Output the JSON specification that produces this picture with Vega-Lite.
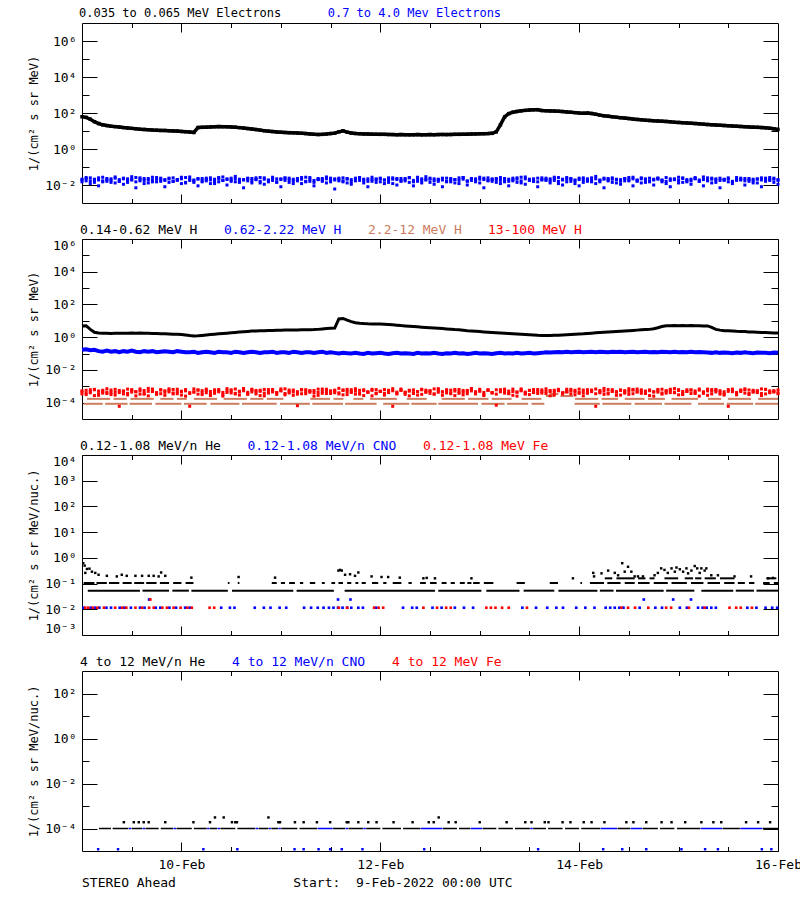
{
"$schema":"https://vega.github.io/schema/vega-lite/v6.json",
"autosize":{"type":"pad"},
"padding":{"left":27,"top":6,"right":0,"bottom":10},
"background":"white",
"config":{"font":"DejaVu Sans Mono","view":{"stroke":"black","strokeWidth":1},
"axis":{"grid":false,"domain":false,"tickColor":"black","tickWidth":1,"labelColor":"black","titleColor":"black","labelFont":"DejaVu Sans Mono","titleFont":"DejaVu Sans Mono","titleFontWeight":"normal"},
"legend":{"labelColor":"black"}},
"title":{"text":"STEREO Ahead\u00a0\u00a0\u00a0\u00a0\u00a0\u00a0\u00a0\u00a0\u00a0\u00a0\u00a0\u00a0\u00a0\u00a0\u00a0Start:\u00a0\u00a09-Feb-2022 00:00 UTC","orient":"bottom","anchor":"start","frame":"group","offset":5,"fontSize":13,"fontWeight":"normal","font":"DejaVu Sans Mono","color":"black"},
"datasets":{
"d":[
{"h":0,"ea":62,"eb":0.021,"ec":0.015,"ed":0.019,"pa":4.8,"pb":0.17,"pr":4.6e-4,"ps":3.4e-4,"pt":5.3e-4},
{"h":1,"ea":57,"eb":0.017,"ec":0.026,"ed":0.023,"pa":5.0,"pb":0.18,"pr":3.1e-4,"ps":5.7e-4,"pt":3.9e-4},
{"h":2,"ea":45,"eb":0.025,"ec":0.012,"ed":0.017,"pa":3.0,"pb":0.16,"pr":6.2e-4,"ps":4e-4,"pt":4.8e-4},
{"h":3,"ea":33,"eb":0.014,"ec":0.02,"ed":0.021,"pa":2.0,"pb":0.17,"pr":2.7e-4,"ps":6.5e-4,"pt":6.1e-4},
{"h":4,"ea":26,"eb":0.019,"ec":0.009,"ed":0.025,"pa":1.8,"pb":0.14,"pr":5.1e-4,"ps":2.8e-4,"pt":3.5e-4},
{"h":5,"ea":22,"eb":0.027,"ec":0.017,"ed":0.015,"pa":1.75,"pb":0.13,"pr":3.8e-4,"ps":4.9e-4,"pt":5.7e-4},
{"h":6,"ea":20,"eb":0.016,"ec":0.023,"ed":0.02,"pa":1.72,"pb":0.15,"pr":7.1e-4,"ps":3.6e-4,"pt":4.4e-4},
{"h":7,"ea":18.5,"eb":0.022,"ec":0.014,"ed":0.018,"pa":1.7,"pb":0.13,"pr":4.2e-4,"ps":5.9e-4,"pt":3.1e-4},
{"h":8,"ea":17.5,"eb":0.013,"ec":0.028,"ed":0.024,"pa":1.75,"pb":0.14,"pr":2.9e-4,"ps":4.3e-4,"pt":6.5e-4},
{"h":9,"ea":16.5,"eb":0.02,"ec":0.016,"ed":0.016,"pa":1.72,"pb":0.12,"pr":5.6e-4,"ps":6e-5,"pt":4.1e-4},
{"h":10,"ea":15.5,"eb":0.024,"ec":0.011,"ed":0.022,"pa":1.74,"pb":0.14,"pr":3.4e-4,"ps":5.1e-4,"pt":5e-4},
{"h":11,"ea":14.8,"eb":0.018,"ec":0.022,"ed":0.014,"pa":1.76,"pb":0.13,"pr":6.7e-4,"ps":3e-4,"pt":3.7e-4},
{"h":12,"ea":14,"eb":0.029,"ec":0.019,"ed":0.02,"pa":1.8,"pb":0.15,"pr":4.4e-4,"ps":6.2e-4,"pt":5.8e-4},
{"h":13,"ea":13.3,"eb":0.015,"ec":0.007,"ed":0.026,"pa":1.76,"pb":0.13,"pr":2.6e-4,"ps":4.7e-4,"pt":4.6e-4},
{"h":14,"ea":12.6,"eb":0.021,"ec":0.025,"ed":0.017,"pa":1.8,"pb":0.12,"pr":5.3e-4,"ps":3.3e-4,"pt":6.9e-4},
{"h":15,"ea":12.2,"eb":0.012,"ec":0.018,"ed":0.023,"pa":1.75,"pb":0.14,"pr":3.6e-4,"ps":5.5e-4,"pt":3.3e-4},
{"h":16,"ea":11.8,"eb":0.023,"ec":0.013,"ed":0.019,"pa":1.72,"pb":0.13,"pr":7.4e-4,"ps":2.6e-4,"pt":4.9e-4},
{"h":17,"ea":11.3,"eb":0.019,"ec":0.027,"ed":0.015,"pa":1.7,"pb":0.14,"pr":4.8e-4,"ps":6.8e-4,"pt":5.4e-4},
{"h":18,"ea":11.1,"eb":0.026,"ec":0.015,"ed":0.021,"pa":1.66,"pb":0.12,"pr":3.2e-4,"ps":4.1e-4,"pt":3.8e-4},
{"h":19,"ea":10.8,"eb":0.016,"ec":0.021,"ed":0.024,"pa":1.62,"pb":0.13,"pr":5.9e-4,"ps":3.5e-4,"pt":6.2e-4},
{"h":20,"ea":10.7,"eb":0.02,"ec":0.008,"ed":0.018,"pa":1.6,"pb":0.14,"pr":2.8e-4,"ps":5.3e-4,"pt":4.3e-4},
{"h":21,"ea":10.4,"eb":0.014,"ec":0.024,"ed":0.022,"pa":1.56,"pb":0.13,"pr":4.5e-4,"ps":7e-4,"pt":5.6e-4},
{"h":22,"ea":10.1,"eb":0.025,"ec":0.016,"ed":0.016,"pa":1.52,"pb":0.12,"pr":6.4e-4,"ps":3.9e-4,"pt":3.4e-4},
{"h":23,"ea":9.9,"eb":0.018,"ec":0.02,"ed":0.02,"pa":1.5,"pb":0.14,"pr":3.5e-4,"ps":4.6e-4,"pt":6.6e-4},
{"h":24,"ea":9.5,"eb":0.022,"ec":0.012,"ed":0.027,"pa":1.45,"pb":0.13,"pr":5e-4,"ps":2.9e-4,"pt":4.7e-4},
{"h":25,"ea":9.2,"eb":0.013,"ec":0.026,"ed":0.014,"pa":1.35,"pb":0.12,"pr":2.5e-4,"ps":6.3e-4,"pt":5.2e-4},
{"h":26,"ea":8.8,"eb":0.028,"ec":0.018,"ed":0.021,"pa":1.26,"pb":0.12,"pr":4.1e-4,"ps":6e-5,"pt":3.6e-4},
{"h":27,"ea":8.3,"eb":0.017,"ec":0.014,"ed":0.019,"pa":1.2,"pb":0.13,"pr":6.9e-4,"ps":4.4e-4,"pt":4.5e-4},
{"h":28,"ea":15.5,"eb":0.021,"ec":0.009,"ed":0.023,"pa":1.22,"pb":0.11,"pr":3.3e-4,"ps":5.8e-4,"pt":6e-4},
{"h":29,"ea":16,"eb":0.015,"ec":0.023,"ed":0.017,"pa":1.28,"pb":0.12,"pr":5.4e-4,"ps":3.1e-4,"pt":4e-4},
{"h":30,"ea":16.4,"eb":0.024,"ec":0.017,"ed":0.02,"pa":1.36,"pb":0.13,"pr":4e-4,"ps":6.7e-4,"pt":5.5e-4},
{"h":31,"ea":16.9,"eb":0.019,"ec":0.012,"ed":0.025,"pa":1.45,"pb":0.12,"pr":2.7e-4,"ps":4.8e-4,"pt":3.2e-4},
{"h":32,"ea":17.3,"eb":0.012,"ec":0.021,"ed":0.016,"pa":1.52,"pb":0.11,"pr":6.1e-4,"ps":3.7e-4,"pt":4.9e-4},
{"h":33,"ea":17.6,"eb":0.026,"ec":0.015,"ed":0.022,"pa":1.6,"pb":0.13,"pr":4.6e-4,"ps":5.4e-4,"pt":6.3e-4},
{"h":34,"ea":17.4,"eb":0.018,"ec":0.028,"ed":0.018,"pa":1.68,"pb":0.12,"pr":3.1e-4,"ps":2.5e-4,"pt":4.2e-4},
{"h":35,"ea":17.2,"eb":0.022,"ec":0.01,"ed":0.02,"pa":1.76,"pb":0.12,"pr":7.2e-4,"ps":4.2e-4,"pt":5.1e-4},
{"h":36,"ea":16.8,"eb":0.016,"ec":0.019,"ed":0.024,"pa":1.85,"pb":0.11,"pr":5.2e-4,"ps":6.1e-4,"pt":3.9e-4},
{"h":37,"ea":16.3,"eb":0.03,"ec":0.022,"ed":0.015,"pa":1.95,"pb":0.13,"pr":3.7e-4,"ps":3.4e-4,"pt":6.8e-4},
{"h":38,"ea":15.4,"eb":0.014,"ec":0.016,"ed":0.021,"pa":2.05,"pb":0.12,"pr":2.9e-4,"ps":5e-4,"pt":4.6e-4},
{"h":39,"ea":14.5,"eb":0.02,"ec":0.007,"ed":0.019,"pa":2.15,"pb":0.11,"pr":5.8e-4,"ps":7.3e-4,"pt":5.3e-4},
{"h":40,"ea":13.6,"eb":0.023,"ec":0.024,"ed":0.017,"pa":2.25,"pb":0.12,"pr":4.3e-4,"ps":3.2e-4,"pt":3.5e-4},
{"h":41,"ea":12.8,"eb":0.017,"ec":0.013,"ed":0.023,"pa":2.35,"pb":0.13,"pr":6.6e-4,"ps":4.5e-4,"pt":6e-4},
{"h":42,"ea":12,"eb":0.025,"ec":0.02,"ed":0.02,"pa":2.4,"pb":0.12,"pr":3.4e-4,"ps":5.6e-4,"pt":4.4e-4},
{"h":43,"ea":11.2,"eb":0.013,"ec":0.026,"ed":0.016,"pa":2.45,"pb":0.11,"pr":4.9e-4,"ps":2.7e-4,"pt":5.7e-4},
{"h":44,"ea":10.4,"eb":0.021,"ec":0.011,"ed":0.025,"pa":2.5,"pb":0.12,"pr":2.6e-4,"ps":6.4e-4,"pt":3.8e-4},
{"h":45,"ea":9.8,"eb":0.019,"ec":0.015,"ed":0.018,"pa":2.55,"pb":0.12,"pr":6.3e-4,"ps":3.8e-4,"pt":4.8e-4},
{"h":46,"ea":9.3,"eb":0.027,"ec":0.018,"ed":0.022,"pa":2.6,"pb":0.13,"pr":4.5e-4,"ps":5.2e-4,"pt":6.4e-4},
{"h":47,"ea":8.9,"eb":0.015,"ec":0.022,"ed":0.014,"pa":2.62,"pb":0.11,"pr":3.2e-4,"ps":4.1e-4,"pt":4.1e-4},
{"h":48,"ea":8.6,"eb":0.022,"ec":0.008,"ed":0.02,"pa":2.65,"pb":0.12,"pr":5.5e-4,"ps":6.9e-4,"pt":5.2e-4},
{"h":49,"ea":8.3,"eb":0.018,"ec":0.025,"ed":0.024,"pa":2.7,"pb":0.12,"pr":7e-4,"ps":3e-4,"pt":3.6e-4},
{"h":50,"ea":8.1,"eb":0.024,"ec":0.014,"ed":0.019,"pa":2.72,"pb":0.11,"pr":3.9e-4,"ps":4.7e-4,"pt":5.9e-4},
{"h":51,"ea":7.9,"eb":0.012,"ec":0.021,"ed":0.017,"pa":2.75,"pb":0.13,"pr":2.8e-4,"ps":5.9e-4,"pt":4.5e-4},
{"h":52,"ea":7.7,"eb":0.02,"ec":0.017,"ed":0.023,"pa":2.78,"pb":0.12,"pr":4.7e-4,"ps":6.5e-5,"pt":3.3e-4},
{"h":53,"ea":7.5,"eb":0.026,"ec":0.012,"ed":0.021,"pa":2.8,"pb":0.11,"pr":6e-4,"ps":3.5e-4,"pt":6.2e-4},
{"h":54,"ea":7.2,"eb":0.016,"ec":0.027,"ed":0.015,"pa":2.82,"pb":0.12,"pr":3.5e-4,"ps":6.2e-4,"pt":4.7e-4},
{"h":55,"ea":6.9,"eb":0.021,"ec":0.016,"ed":0.026,"pa":2.85,"pb":0.12,"pr":5.1e-4,"ps":4.3e-4,"pt":5.4e-4},
{"h":56,"ea":6.6,"eb":0.014,"ec":0.009,"ed":0.018,"pa":2.9,"pb":0.11,"pr":2.5e-4,"ps":5.5e-4,"pt":4e-4},
{"h":57,"ea":6.4,"eb":0.023,"ec":0.02,"ed":0.02,"pa":3.0,"pb":0.12,"pr":4.2e-4,"ps":2.8e-4,"pt":6.7e-4},
{"h":58,"ea":6.5,"eb":0.019,"ec":0.023,"ed":0.016,"pa":3.2,"pb":0.13,"pr":6.8e-4,"ps":4.9e-4,"pt":3.7e-4},
{"h":59,"ea":6.8,"eb":0.028,"ec":0.013,"ed":0.022,"pa":3.4,"pb":0.11,"pr":3.6e-4,"ps":6.6e-4,"pt":5e-4},
{"h":60,"ea":7.2,"eb":0.015,"ec":0.018,"ed":0.024,"pa":3.5,"pb":0.12,"pr":5.3e-4,"ps":3.6e-4,"pt":4.3e-4},
{"h":61,"ea":7.6,"eb":0.022,"ec":0.006,"ed":0.019,"pa":3.6,"pb":0.11,"pr":4e-4,"ps":5.1e-4,"pt":5.8e-4},
{"h":62,"ea":9,"eb":0.017,"ec":0.024,"ed":0.021,"pa":13,"pb":0.1,"pr":7.5e-4,"ps":4e-4,"pt":3.4e-4},
{"h":63,"ea":10.2,"eb":0.025,"ec":0.015,"ed":0.017,"pa":14,"pb":0.11,"pr":3e-4,"ps":6e-4,"pt":5.5e-4},
{"h":64,"ea":8.6,"eb":0.013,"ec":0.021,"ed":0.023,"pa":11,"pb":0.105,"pr":4.8e-4,"ps":3.1e-4,"pt":6.5e-4},
{"h":65,"ea":7.7,"eb":0.02,"ec":0.011,"ed":0.015,"pa":9,"pb":0.1,"pr":6.2e-4,"ps":4.6e-4,"pt":4.2e-4},
{"h":66,"ea":7.3,"eb":0.024,"ec":0.017,"ed":0.02,"pa":7.6,"pb":0.11,"pr":3.3e-4,"ps":7.1e-4,"pt":5.1e-4},
{"h":67,"ea":7.1,"eb":0.018,"ec":0.026,"ed":0.025,"pa":7.1,"pb":0.1,"pr":5.7e-4,"ps":3.3e-4,"pt":3.9e-4},
{"h":68,"ea":6.9,"eb":0.021,"ec":0.013,"ed":0.018,"pa":6.8,"pb":0.095,"pr":2.7e-4,"ps":5.4e-4,"pt":6.1e-4},
{"h":69,"ea":6.8,"eb":0.016,"ec":0.008,"ed":0.022,"pa":6.6,"pb":0.11,"pr":4.4e-4,"ps":4.2e-4,"pt":4.6e-4},
{"h":70,"ea":6.7,"eb":0.027,"ec":0.02,"ed":0.016,"pa":6.5,"pb":0.1,"pr":6.5e-4,"ps":2.6e-4,"pt":5.6e-4},
{"h":71,"ea":6.6,"eb":0.014,"ec":0.022,"ed":0.02,"pa":6.4,"pb":0.105,"pr":3.8e-4,"ps":6.3e-4,"pt":3.5e-4},
{"h":72,"ea":6.5,"eb":0.022,"ec":0.015,"ed":0.024,"pa":6.3,"pb":0.11,"pr":5e-4,"ps":4.8e-4,"pt":4.9e-4},
{"h":73,"ea":6.5,"eb":0.019,"ec":0.012,"ed":0.019,"pa":6.1,"pb":0.1,"pr":2.9e-4,"ps":3.7e-4,"pt":6.3e-4},
{"h":74,"ea":6.4,"eb":0.025,"ec":0.018,"ed":0.014,"pa":5.9,"pb":0.095,"pr":4.6e-4,"ps":5.7e-4,"pt":4.1e-4},
{"h":75,"ea":6.3,"eb":0.012,"ec":0.025,"ed":0.021,"pa":5.7,"pb":0.105,"pr":7.1e-4,"ps":6e-5,"pt":5.3e-4},
{"h":76,"ea":6.2,"eb":0.02,"ec":0.01,"ed":0.023,"pa":5.4,"pb":0.11,"pr":3.4e-4,"ps":4.4e-4,"pt":3.8e-4},
{"h":77,"ea":6.3,"eb":0.023,"ec":0.016,"ed":0.017,"pa":5.1,"pb":0.1,"pr":5.5e-4,"ps":6.8e-4,"pt":6e-4},
{"h":78,"ea":6.2,"eb":0.017,"ec":0.023,"ed":0.02,"pa":4.9,"pb":0.105,"pr":4.1e-4,"ps":3.2e-4,"pt":4.4e-4},
{"h":79,"ea":6.1,"eb":0.026,"ec":0.014,"ed":0.025,"pa":4.7,"pb":0.1,"pr":2.6e-4,"ps":5e-4,"pt":5.7e-4},
{"h":80,"ea":6.2,"eb":0.015,"ec":0.009,"ed":0.018,"pa":4.5,"pb":0.095,"pr":6e-4,"ps":4.1e-4,"pt":3.6e-4},
{"h":81,"ea":6.3,"eb":0.021,"ec":0.027,"ed":0.016,"pa":4.3,"pb":0.11,"pr":4.7e-4,"ps":2.9e-4,"pt":4.8e-4},
{"h":82,"ea":6.1,"eb":0.018,"ec":0.013,"ed":0.022,"pa":4.1,"pb":0.1,"pr":3.2e-4,"ps":6.1e-4,"pt":6.6e-4},
{"h":83,"ea":6.2,"eb":0.029,"ec":0.019,"ed":0.02,"pa":3.9,"pb":0.105,"pr":5.8e-4,"ps":4.5e-4,"pt":4.3e-4},
{"h":84,"ea":6.3,"eb":0.014,"ec":0.021,"ed":0.024,"pa":3.75,"pb":0.1,"pr":3.7e-4,"ps":5.3e-4,"pt":5.2e-4},
{"h":85,"ea":6.2,"eb":0.022,"ec":0.011,"ed":0.017,"pa":3.6,"pb":0.11,"pr":6.9e-4,"ps":3.4e-4,"pt":3.3e-4},
{"h":86,"ea":6.3,"eb":0.02,"ec":0.016,"ed":0.021,"pa":3.5,"pb":0.1,"pr":4.3e-4,"ps":7.2e-4,"pt":5.9e-4},
{"h":87,"ea":6.4,"eb":0.024,"ec":0.008,"ed":0.019,"pa":3.35,"pb":0.095,"pr":2.8e-4,"ps":4.6e-4,"pt":4.5e-4},
{"h":88,"ea":6.3,"eb":0.016,"ec":0.024,"ed":0.015,"pa":3.2,"pb":0.105,"pr":5.2e-4,"ps":3.9e-4,"pt":6.2e-4},
{"h":89,"ea":6.4,"eb":0.019,"ec":0.015,"ed":0.023,"pa":3.05,"pb":0.1,"pr":3.5e-4,"ps":5.8e-4,"pt":4e-4},
{"h":90,"ea":6.5,"eb":0.013,"ec":0.02,"ed":0.02,"pa":2.9,"pb":0.11,"pr":6.4e-4,"ps":2.7e-4,"pt":5.1e-4},
{"h":91,"ea":6.5,"eb":0.025,"ec":0.012,"ed":0.018,"pa":2.8,"pb":0.1,"pr":4.5e-4,"ps":6.4e-4,"pt":3.7e-4},
{"h":92,"ea":6.6,"eb":0.021,"ec":0.026,"ed":0.026,"pa":2.65,"pb":0.105,"pr":3e-4,"ps":4.3e-4,"pt":5.6e-4},
{"h":93,"ea":6.7,"eb":0.017,"ec":0.01,"ed":0.016,"pa":2.5,"pb":0.095,"pr":5.6e-4,"ps":3.5e-4,"pt":4.7e-4},
{"h":94,"ea":6.8,"eb":0.023,"ec":0.018,"ed":0.022,"pa":2.4,"pb":0.1,"pr":7.3e-4,"ps":5.2e-4,"pt":6.4e-4},
{"h":95,"ea":6.9,"eb":0.015,"ec":0.022,"ed":0.019,"pa":2.3,"pb":0.11,"pr":3.9e-4,"ps":4.7e-4,"pt":3.4e-4},
{"h":96,"ea":7,"eb":0.027,"ec":0.013,"ed":0.021,"pa":2.2,"pb":0.1,"pr":4.9e-4,"ps":6.6e-4,"pt":5.4e-4},
{"h":97,"ea":7.1,"eb":0.02,"ec":0.007,"ed":0.024,"pa":2.1,"pb":0.105,"pr":2.7e-4,"ps":3.1e-4,"pt":4.2e-4},
{"h":98,"ea":7.2,"eb":0.018,"ec":0.025,"ed":0.017,"pa":2.0,"pb":0.1,"pr":6.1e-4,"ps":5.6e-4,"pt":5.8e-4},
{"h":99,"ea":7.4,"eb":0.022,"ec":0.016,"ed":0.02,"pa":1.92,"pb":0.095,"pr":4.2e-4,"ps":4e-4,"pt":3.9e-4},
{"h":100,"ea":9,"eb":0.014,"ec":0.02,"ed":0.023,"pa":1.85,"pb":0.105,"pr":3.3e-4,"ps":7e-5,"pt":6.1e-4},
{"h":101,"ea":22,"eb":0.026,"ec":0.012,"ed":0.018,"pa":1.78,"pb":0.11,"pr":5.4e-4,"ps":6.2e-4,"pt":4.6e-4},
{"h":102,"ea":60,"eb":0.019,"ec":0.023,"ed":0.015,"pa":1.72,"pb":0.1,"pr":6.7e-4,"ps":3.8e-4,"pt":5e-4},
{"h":103,"ea":92,"eb":0.016,"ec":0.009,"ed":0.021,"pa":1.66,"pb":0.105,"pr":3.6e-4,"ps":5.1e-4,"pt":3.5e-4},
{"h":104,"ea":110,"eb":0.024,"ec":0.017,"ed":0.02,"pa":1.6,"pb":0.1,"pr":4.8e-4,"ps":2.8e-4,"pt":6.7e-4},
{"h":105,"ea":122,"eb":0.021,"ec":0.014,"ed":0.025,"pa":1.55,"pb":0.11,"pr":2.5e-4,"ps":4.4e-4,"pt":4.4e-4},
{"h":106,"ea":132,"eb":0.013,"ec":0.027,"ed":0.017,"pa":1.5,"pb":0.1,"pr":5.9e-4,"ps":6.9e-4,"pt":5.3e-4},
{"h":107,"ea":140,"eb":0.028,"ec":0.011,"ed":0.022,"pa":1.45,"pb":0.105,"pr":4.4e-4,"ps":3.3e-4,"pt":3.8e-4},
{"h":108,"ea":146,"eb":0.018,"ec":0.021,"ed":0.019,"pa":1.4,"pb":0.11,"pr":3.1e-4,"ps":5.5e-4,"pt":5.7e-4},
{"h":109,"ea":150,"eb":0.022,"ec":0.016,"ed":0.016,"pa":1.35,"pb":0.1,"pr":6.3e-4,"ps":4.2e-4,"pt":4.1e-4},
{"h":110,"ea":153,"eb":0.015,"ec":0.008,"ed":0.024,"pa":1.3,"pb":0.105,"pr":5e-4,"ps":3.6e-4,"pt":6.3e-4},
{"h":111,"ea":137,"eb":0.025,"ec":0.019,"ed":0.02,"pa":1.27,"pb":0.11,"pr":3.8e-4,"ps":6e-4,"pt":4.8e-4},
{"h":112,"ea":134,"eb":0.02,"ec":0.024,"ed":0.018,"pa":1.25,"pb":0.12,"pr":7e-4,"ps":4.8e-4,"pt":3.6e-4},
{"h":113,"ea":131,"eb":0.017,"ec":0.013,"ed":0.022,"pa":1.27,"pb":0.115,"pr":4.6e-4,"ps":2.6e-4,"pt":5.5e-4},
{"h":114,"ea":128,"eb":0.023,"ec":0.018,"ed":0.027,"pa":1.3,"pb":0.12,"pr":2.9e-4,"ps":5.7e-4,"pt":4.3e-4},
{"h":115,"ea":124,"eb":0.012,"ec":0.026,"ed":0.016,"pa":1.33,"pb":0.125,"pr":5.3e-4,"ps":6.5e-4,"pt":6e-4},
{"h":116,"ea":120,"eb":0.021,"ec":0.01,"ed":0.019,"pa":1.36,"pb":0.12,"pr":4e-4,"ps":3.4e-4,"pt":3.9e-4},
{"h":117,"ea":115,"eb":0.026,"ec":0.015,"ed":0.021,"pa":1.4,"pb":0.13,"pr":6.6e-4,"ps":4.5e-4,"pt":5.2e-4},
{"h":118,"ea":110,"eb":0.016,"ec":0.022,"ed":0.023,"pa":1.45,"pb":0.12,"pr":3.4e-4,"ps":5.2e-4,"pt":6.5e-4},
{"h":119,"ea":105,"eb":0.019,"ec":0.012,"ed":0.017,"pa":1.5,"pb":0.125,"pr":5.7e-4,"ps":3e-4,"pt":4.5e-4},
{"h":120,"ea":100,"eb":0.024,"ec":0.009,"ed":0.02,"pa":1.55,"pb":0.13,"pr":4.3e-4,"ps":6.7e-4,"pt":3.7e-4},
{"h":121,"ea":97,"eb":0.014,"ec":0.02,"ed":0.025,"pa":1.6,"pb":0.12,"pr":2.6e-4,"ps":4.1e-4,"pt":5.9e-4},
{"h":122,"ea":100,"eb":0.022,"ec":0.016,"ed":0.018,"pa":1.68,"pb":0.125,"pr":6.2e-4,"ps":3.7e-4,"pt":4.2e-4},
{"h":123,"ea":94,"eb":0.018,"ec":0.025,"ed":0.015,"pa":1.76,"pb":0.13,"pr":4.7e-4,"ps":5.9e-4,"pt":5.4e-4},
{"h":124,"ea":85,"eb":0.03,"ec":0.012,"ed":0.022,"pa":1.84,"pb":0.12,"pr":3.5e-4,"ps":6e-5,"pt":6.8e-4},
{"h":125,"ea":76,"eb":0.015,"ec":0.018,"ed":0.019,"pa":1.92,"pb":0.13,"pr":5.5e-4,"ps":4.6e-4,"pt":4e-4},
{"h":126,"ea":70,"eb":0.021,"ec":0.007,"ed":0.024,"pa":2.0,"pb":0.125,"pr":7.4e-4,"ps":3.2e-4,"pt":5.1e-4},
{"h":127,"ea":66,"eb":0.019,"ec":0.023,"ed":0.017,"pa":2.08,"pb":0.12,"pr":3.9e-4,"ps":6.3e-4,"pt":3.4e-4},
{"h":128,"ea":62,"eb":0.025,"ec":0.014,"ed":0.021,"pa":2.16,"pb":0.13,"pr":4.9e-4,"ps":5e-4,"pt":6.2e-4},
{"h":129,"ea":58,"eb":0.013,"ec":0.021,"ed":0.02,"pa":2.24,"pb":0.125,"pr":2.8e-4,"ps":4.3e-4,"pt":4.7e-4},
{"h":130,"ea":55,"eb":0.02,"ec":0.011,"ed":0.016,"pa":2.32,"pb":0.13,"pr":6e-4,"ps":2.9e-4,"pt":5.6e-4},
{"h":131,"ea":52,"eb":0.023,"ec":0.017,"ed":0.023,"pa":2.4,"pb":0.12,"pr":4.4e-4,"ps":5.4e-4,"pt":3.8e-4},
{"h":132,"ea":49,"eb":0.017,"ec":0.026,"ed":0.019,"pa":2.5,"pb":0.125,"pr":3.2e-4,"ps":7.1e-4,"pt":4.9e-4},
{"h":133,"ea":46,"eb":0.027,"ec":0.009,"ed":0.022,"pa":2.6,"pb":0.13,"pr":5.8e-4,"ps":3.5e-4,"pt":6.4e-4},
{"h":134,"ea":44,"eb":0.016,"ec":0.019,"ed":0.018,"pa":2.7,"pb":0.12,"pr":6.8e-4,"ps":4.7e-4,"pt":4.4e-4},
{"h":135,"ea":42,"eb":0.022,"ec":0.013,"ed":0.025,"pa":2.8,"pb":0.125,"pr":3.7e-4,"ps":6.1e-4,"pt":5.3e-4},
{"h":136,"ea":40,"eb":0.014,"ec":0.022,"ed":0.02,"pa":2.9,"pb":0.13,"pr":5.1e-4,"ps":3.9e-4,"pt":3.6e-4},
{"h":137,"ea":38.5,"eb":0.024,"ec":0.015,"ed":0.017,"pa":3.0,"pb":0.12,"pr":2.7e-4,"ps":5.3e-4,"pt":6e-4},
{"h":138,"ea":37,"eb":0.019,"ec":0.01,"ed":0.021,"pa":3.3,"pb":0.125,"pr":4.5e-4,"ps":2.5e-4,"pt":4.6e-4},
{"h":139,"ea":36,"eb":0.021,"ec":0.024,"ed":0.024,"pa":3.8,"pb":0.12,"pr":6.4e-4,"ps":4.4e-4,"pt":5.7e-4},
{"h":140,"ea":35,"eb":0.015,"ec":0.018,"ed":0.019,"pa":4.5,"pb":0.13,"pr":3.3e-4,"ps":6.6e-4,"pt":3.9e-4},
{"h":141,"ea":34,"eb":0.026,"ec":0.012,"ed":0.016,"pa":5.0,"pb":0.125,"pr":5.4e-4,"ps":3.8e-4,"pt":5e-4},
{"h":142,"ea":32.5,"eb":0.018,"ec":0.008,"ed":0.022,"pa":5.0,"pb":0.12,"pr":4.1e-4,"ps":5.6e-4,"pt":6.6e-4},
{"h":143,"ea":31,"eb":0.022,"ec":0.02,"ed":0.02,"pa":5.1,"pb":0.13,"pr":7.2e-4,"ps":4e-4,"pt":4.3e-4},
{"h":144,"ea":30,"eb":0.013,"ec":0.027,"ed":0.018,"pa":5.0,"pb":0.12,"pr":3e-4,"ps":6.2e-4,"pt":5.5e-4},
{"h":145,"ea":29,"eb":0.025,"ec":0.014,"ed":0.023,"pa":5.1,"pb":0.125,"pr":4.8e-4,"ps":3.1e-4,"pt":3.5e-4},
{"h":146,"ea":28,"eb":0.02,"ec":0.017,"ed":0.015,"pa":5.0,"pb":0.12,"pr":6.1e-4,"ps":4.9e-4,"pt":4.8e-4},
{"h":147,"ea":27,"eb":0.017,"ec":0.011,"ed":0.021,"pa":5.1,"pb":0.13,"pr":3.6e-4,"ps":5.8e-4,"pt":6.1e-4},
{"h":148,"ea":26,"eb":0.023,"ec":0.022,"ed":0.026,"pa":5.0,"pb":0.12,"pr":5.2e-4,"ps":3.6e-4,"pt":4.1e-4},
{"h":149,"ea":25,"eb":0.016,"ec":0.016,"ed":0.019,"pa":5.0,"pb":0.125,"pr":2.5e-4,"ps":6.8e-4,"pt":5.8e-4},
{"h":150,"ea":24,"eb":0.028,"ec":0.009,"ed":0.02,"pa":4.9,"pb":0.12,"pr":4.6e-4,"ps":4.2e-4,"pt":3.7e-4},
{"h":151,"ea":23,"eb":0.019,"ec":0.025,"ed":0.017,"pa":4.9,"pb":0.115,"pr":6.7e-4,"ps":2.8e-4,"pt":5.2e-4},
{"h":152,"ea":22.2,"eb":0.021,"ec":0.013,"ed":0.024,"pa":4.0,"pb":0.11,"pr":3.4e-4,"ps":5.1e-4,"pt":6.3e-4},
{"h":153,"ea":21.5,"eb":0.014,"ec":0.019,"ed":0.022,"pa":3.0,"pb":0.12,"pr":5.6e-4,"ps":6.4e-4,"pt":4.5e-4},
{"h":154,"ea":20.8,"eb":0.024,"ec":0.007,"ed":0.018,"pa":2.7,"pb":0.11,"pr":4.2e-4,"ps":3.3e-4,"pt":5.4e-4},
{"h":155,"ea":20.2,"eb":0.018,"ec":0.021,"ed":0.02,"pa":2.5,"pb":0.115,"pr":2.9e-4,"ps":4.6e-4,"pt":3.3e-4},
{"h":156,"ea":19.6,"eb":0.022,"ec":0.015,"ed":0.025,"pa":2.45,"pb":0.11,"pr":6.3e-4,"ps":6e-5,"pt":4.9e-4},
{"h":157,"ea":19,"eb":0.015,"ec":0.012,"ed":0.016,"pa":2.4,"pb":0.105,"pr":4.7e-4,"ps":5.5e-4,"pt":6.7e-4},
{"h":158,"ea":18.4,"eb":0.026,"ec":0.018,"ed":0.021,"pa":2.3,"pb":0.115,"pr":3.8e-4,"ps":3e-4,"pt":4.2e-4},
{"h":159,"ea":17.9,"eb":0.02,"ec":0.024,"ed":0.019,"pa":2.25,"pb":0.11,"pr":5.9e-4,"ps":4.8e-4,"pt":5.6e-4},
{"h":160,"ea":17.4,"eb":0.017,"ec":0.01,"ed":0.023,"pa":2.2,"pb":0.12,"pr":7e-4,"ps":6.1e-4,"pt":3.8e-4},
{"h":161,"ea":16.9,"eb":0.023,"ec":0.016,"ed":0.02,"pa":2.1,"pb":0.11,"pr":3.1e-4,"ps":3.7e-4,"pt":6e-4},
{"h":162,"ea":16.4,"eb":0.013,"ec":0.021,"ed":0.017,"pa":2.05,"pb":0.105,"pr":4.4e-4,"ps":5.7e-4,"pt":4.7e-4},
{"h":163,"ea":16,"eb":0.021,"ec":0.013,"ed":0.022,"pa":2.0,"pb":0.115,"pr":5.3e-4,"ps":4.1e-4,"pt":5.1e-4},
{"h":164,"ea":15.5,"eb":0.025,"ec":0.008,"ed":0.019,"pa":1.95,"pb":0.11,"pr":2.7e-4,"ps":6.9e-4,"pt":3.6e-4},
{"h":165,"ea":15,"eb":0.016,"ec":0.019,"ed":0.024,"pa":1.9,"pb":0.11,"pr":6.5e-4,"ps":3.4e-4,"pt":6.4e-4},
{"h":166,"ea":14.2,"eb":0.02,"ec":0.026,"ed":0.018,"pa":1.85,"pb":0.105,"pr":4e-4,"ps":5.2e-4,"pt":4.4e-4},
{"h":167,"ea":13.2,"eb":0.024,"ec":0.014,"ed":0.021,"pa":1.82,"pb":0.115,"pr":5e-4,"ps":4.4e-4,"pt":5.3e-4},
{"h":168,"ea":12.2,"eb":0.018,"ec":0.011,"ed":0.02,"pa":1.8,"pb":0.11,"pr":3.5e-4,"ps":6e-4,"pt":4e-4}
],
"sal":[
{"a":0.4,"b":5,"v":8.5e-5},{"a":5.6,"b":11,"v":8.5e-5},{"a":11.5,"b":16.9,"v":8.5e-5},{"a":17.7,"b":24,"v":8.5e-5},{"a":24.6,"b":30.1,"v":8.5e-5},{"a":31,"b":38,"v":8.5e-5},{"a":38.6,"b":47,"v":8.5e-5},{"a":47.8,"b":55,"v":8.5e-5},{"a":55.6,"b":63,"v":8.5e-5},{"a":63.5,"b":71.1,"v":8.5e-5},{"a":72.7,"b":79,"v":8.5e-5},{"a":79.5,"b":85.6,"v":8.5e-5},{"a":86,"b":95.6,"v":8.5e-5},{"a":96.4,"b":102,"v":8.5e-5},{"a":102.6,"b":107.7,"v":8.5e-5},{"a":108.5,"b":111.6,"v":8.5e-5},{"a":118.9,"b":125,"v":8.5e-5},{"a":125.6,"b":132.6,"v":8.5e-5},{"a":133.4,"b":140,"v":8.5e-5},{"a":140.6,"b":147.1,"v":8.5e-5},{"a":148.7,"b":155,"v":8.5e-5},{"a":155.6,"b":162,"v":8.5e-5},{"a":162.5,"b":168,"v":8.5e-5},
{"a":1.2,"b":6.8,"v":1.7e-4},{"a":7.6,"b":10.8,"v":1.7e-4},{"a":11.7,"b":17.3,"v":1.7e-4},{"a":18.9,"b":22.1,"v":1.7e-4},{"a":22.9,"b":25.3,"v":1.7e-4},{"a":27,"b":32.6,"v":1.7e-4},{"a":34.2,"b":39.8,"v":1.7e-4},{"a":40.6,"b":43.8,"v":1.7e-4},{"a":44.6,"b":48.6,"v":1.7e-4},{"a":55.1,"b":59.9,"v":1.7e-4},{"a":60.7,"b":63.1,"v":1.7e-4},{"a":65.5,"b":67.9,"v":1.7e-4},{"a":69.5,"b":76,"v":1.7e-4},{"a":78.4,"b":83.2,"v":1.7e-4},{"a":86.8,"b":92.4,"v":1.7e-4},{"a":93.2,"b":98.1,"v":1.7e-4},{"a":98.9,"b":103.7,"v":1.7e-4},{"a":106.1,"b":110.9,"v":1.7e-4},{"a":119,"b":124.6,"v":1.7e-4},{"a":125.4,"b":129.4,"v":1.7e-4},{"a":131,"b":135.8,"v":1.7e-4},{"a":136.6,"b":140.7,"v":1.7e-4},{"a":142.3,"b":148.7,"v":1.7e-4},{"a":151.1,"b":154.3,"v":1.7e-4},{"a":155.9,"b":161.5,"v":1.7e-4},{"a":163.2,"b":168,"v":1.7e-4},
{"a":112,"b":114,"v":2.55e-4},{"a":115.5,"b":118.5,"v":2.55e-4},{"a":113,"b":115,"v":3.4e-4},{"a":116,"b":117.5,"v":4.25e-4}
],
"he3s":[
{"a":1.4,"b":14,"v":0.053},{"a":14.6,"b":21,"v":0.053},{"a":21.8,"b":25.8,"v":0.053},{"a":26.4,"b":35.2,"v":0.053},{"a":36.2,"b":51,"v":0.053},{"a":51.8,"b":60.8,"v":0.053},{"a":63.4,"b":85.2,"v":0.053},{"a":86,"b":96.4,"v":0.053},{"a":97.6,"b":105.6,"v":0.053},{"a":106.6,"b":114,"v":0.053},{"a":115,"b":124.4,"v":0.053},{"a":125,"b":128.3,"v":0.053},{"a":128.9,"b":140.4,"v":0.053},{"a":141,"b":147.8,"v":0.053},{"a":149.5,"b":157.2,"v":0.053},{"a":157.8,"b":162.2,"v":0.053},{"a":162.8,"b":168,"v":0.053},
{"a":0.4,"b":3,"v":0.105},{"a":3.5,"b":6,"v":0.105},{"a":6.5,"b":9,"v":0.105},{"a":9.8,"b":12,"v":0.105},{"a":12.6,"b":15,"v":0.105},{"a":15.5,"b":18,"v":0.105},{"a":18.8,"b":21,"v":0.105},{"a":22,"b":24,"v":0.105},{"a":25,"b":26.9,"v":0.105},{"a":35.2,"b":35.6,"v":0.105},{"a":37.6,"b":38,"v":0.105},{"a":45.8,"b":47,"v":0.105},{"a":48,"b":49,"v":0.105},{"a":50,"b":51.4,"v":0.105},{"a":52.6,"b":53.4,"v":0.105},{"a":55,"b":56.3,"v":0.105},{"a":57.9,"b":58.6,"v":0.105},{"a":60.2,"b":61.1,"v":0.105},{"a":61.9,"b":63,"v":0.105},{"a":64,"b":65,"v":0.105},{"a":66,"b":66.7,"v":0.105},{"a":67.5,"b":68.5,"v":0.105},{"a":70,"b":71.5,"v":0.105},{"a":72.7,"b":73.5,"v":0.105},{"a":75,"b":77.1,"v":0.105},{"a":78.8,"b":79.6,"v":0.105},{"a":81.6,"b":83,"v":0.105},{"a":84,"b":85.6,"v":0.105},{"a":86.8,"b":88,"v":0.105},{"a":89,"b":90,"v":0.105},{"a":91.2,"b":92.4,"v":0.105},{"a":93,"b":94,"v":0.105},{"a":94.4,"b":96,"v":0.105},{"a":97,"b":99.3,"v":0.105},{"a":104.9,"b":106.9,"v":0.105},{"a":112.9,"b":114.9,"v":0.105},{"a":120.3,"b":120.7,"v":0.105},{"a":122.6,"b":126,"v":0.105},{"a":126.8,"b":130,"v":0.105},{"a":131,"b":133.4,"v":0.105},{"a":134.2,"b":137,"v":0.105},{"a":138,"b":141.4,"v":0.105},{"a":142.3,"b":146,"v":0.105},{"a":147,"b":150,"v":0.105},{"a":151,"b":154,"v":0.105},{"a":155,"b":157.5,"v":0.105},{"a":158.3,"b":160,"v":0.105},{"a":161,"b":162.3,"v":0.105},{"a":164.4,"b":166,"v":0.105},{"a":167,"b":168,"v":0.105},
{"a":126.2,"b":128,"v":0.16},{"a":129,"b":133.4,"v":0.16},{"a":134.2,"b":136,"v":0.16},{"a":137,"b":138.2,"v":0.16},{"a":140.6,"b":143.9,"v":0.16},{"a":145.5,"b":147.5,"v":0.16},{"a":148,"b":149.5,"v":0.16},{"a":150.3,"b":153,"v":0.16},{"a":154,"b":157.5,"v":0.16},{"a":165.2,"b":167.6,"v":0.16}
],
"he3p":[
{"h":0.3,"v":0.62},{"h":0.64,"v":0.5},{"h":1.2,"v":0.37},{"h":1.8,"v":0.38},{"h":2.4,"v":0.29},{"h":0.8,"v":0.26},{"h":3.2,"v":0.26},{"h":4,"v":0.22},{"h":6,"v":0.2},{"h":8.4,"v":0.19},{"h":9.6,"v":0.22},{"h":10.8,"v":0.2},{"h":12.9,"v":0.2},{"h":14.5,"v":0.2},{"h":16.1,"v":0.2},{"h":17.3,"v":0.2},{"h":18.5,"v":0.19},{"h":19.1,"v":0.27},{"h":20.1,"v":0.2},{"h":26.4,"v":0.17},{"h":37.8,"v":0.18},{"h":46.6,"v":0.17},{"h":62.3,"v":0.34},{"h":61.9,"v":0.32},{"h":62.7,"v":0.32},{"h":63.5,"v":0.22},{"h":64.7,"v":0.23},{"h":66.7,"v":0.27},{"h":65.9,"v":0.2},{"h":69.9,"v":0.19},{"h":72.3,"v":0.18},{"h":73.9,"v":0.18},{"h":76.7,"v":0.17},
{"h":82.4,"v":0.16},{"h":83.2,"v":0.166},{"h":85.2,"v":0.16},{"h":94,"v":0.16},{"h":118.5,"v":0.16},{"h":123.4,"v":0.26},{"h":123.6,"v":0.19},{"h":125.4,"v":0.25},{"h":127,"v":0.32},{"h":128.6,"v":0.26},{"h":129.4,"v":0.21},{"h":130.4,"v":0.62},{"h":131,"v":0.29},{"h":131.8,"v":0.45},{"h":132.6,"v":0.29},{"h":133.4,"v":0.19},{"h":134.2,"v":0.19},{"h":135.4,"v":0.19},{"h":138.2,"v":0.21},{"h":139,"v":0.26},{"h":139.8,"v":0.39},{"h":140.6,"v":0.34},{"h":141.4,"v":0.26},{"h":142.3,"v":0.39},{"h":143.1,"v":0.29},{"h":143.5,"v":0.42},{"h":144.3,"v":0.36},{"h":145.1,"v":0.29},{"h":145.9,"v":0.39},{"h":146.3,"v":0.25},{"h":147.1,"v":0.32},{"h":147.9,"v":0.48},{"h":148.5,"v":0.39},{"h":149.1,"v":0.26},{"h":149.5,"v":0.39},{"h":150.3,"v":0.32},{"h":150.7,"v":0.39},{"h":151.9,"v":0.21},{"h":153.5,"v":0.21},{"h":157.5,"v":0.19},{"h":161.5,"v":0.19},{"h":165.6,"v":0.16},{"h":166.8,"v":0.166}
],
"cno3":[
{"h":0.4,"v":0.0115},{"h":2.1,"v":0.0115},{"h":3.1,"v":0.0115},{"h":4.2,"v":0.0115},{"h":5.9,"v":0.0115},{"h":7,"v":0.0115},{"h":9.1,"v":0.0115},{"h":10.2,"v":0.0115},{"h":11.8,"v":0.0115},{"h":14,"v":0.0115},{"h":15.1,"v":0.0115},{"h":17.8,"v":0.0115},{"h":18.9,"v":0.0115},{"h":21.1,"v":0.0115},{"h":22.7,"v":0.0115},{"h":24.9,"v":0.0115},{"h":26,"v":0.0115},{"h":33.6,"v":0.0115},{"h":35.7,"v":0.0115},{"h":36.8,"v":0.0115},{"h":41.7,"v":0.0115},{"h":43.9,"v":0.0115},{"h":45.5,"v":0.0115},{"h":47.7,"v":0.0115},{"h":49.3,"v":0.0115},{"h":53.6,"v":0.0115},{"h":55.3,"v":0.0115},{"h":56.9,"v":0.0115},{"h":58.3,"v":0.0115},{"h":59.6,"v":0.0115},{"h":60.7,"v":0.0115},{"h":61.8,"v":0.0115},{"h":62.9,"v":0.0115},{"h":64,"v":0.0115},{"h":65,"v":0.0115},{"h":66.7,"v":0.0115},{"h":67.8,"v":0.0115},{"h":71,"v":0.0115},{"h":77.5,"v":0.0115},{"h":79.7,"v":0.0115},{"h":80.8,"v":0.0115},{"h":84.6,"v":0.0115},{"h":86.8,"v":0.0115},{"h":90,"v":0.0115},{"h":92.2,"v":0.0115},{"h":94.4,"v":0.0115},{"h":106.3,"v":0.0115},{"h":109.6,"v":0.0115},{"h":112.3,"v":0.0115},{"h":114.5,"v":0.0115},{"h":116.1,"v":0.0115},{"h":119.3,"v":0.0115},{"h":121.5,"v":0.0115},{"h":123.7,"v":0.0115},{"h":126.4,"v":0.0115},{"h":127.5,"v":0.0115},{"h":128.6,"v":0.0115},{"h":129.7,"v":0.0115},{"h":130.7,"v":0.0115},{"h":134.6,"v":0.0115},{"h":138.4,"v":0.0115},{"h":140,"v":0.0115},{"h":144.3,"v":0.0115},{"h":146,"v":0.0115},{"h":148.7,"v":0.0115},{"h":149.8,"v":0.0115},{"h":150.8,"v":0.0115},{"h":151.9,"v":0.0115},{"h":153,"v":0.0115},{"h":160.6,"v":0.0115},{"h":162.8,"v":0.0115},{"h":165,"v":0.0115},{"h":166.6,"v":0.0115},{"h":167.8,"v":0.0115},
{"h":16.2,"v":0.024},{"h":61.8,"v":0.024},{"h":64.8,"v":0.024},{"h":135.6,"v":0.024},{"h":142.7,"v":0.024},{"h":147,"v":0.024}
],
"fe3":[
{"h":0.8,"v":0.0115},{"h":1.5,"v":0.0115},{"h":2.6,"v":0.0115},{"h":3.7,"v":0.0115},{"h":5.3,"v":0.0115},{"h":8,"v":0.0115},{"h":9.7,"v":0.0115},{"h":10.7,"v":0.0115},{"h":12.9,"v":0.0115},{"h":14.5,"v":0.0115},{"h":16.2,"v":0.0115},{"h":17.3,"v":0.0115},{"h":19.4,"v":0.0115},{"h":20.5,"v":0.0115},{"h":22.1,"v":0.0115},{"h":23.8,"v":0.0115},{"h":25.4,"v":0.0115},{"h":26.5,"v":0.0115},{"h":30.8,"v":0.0115},{"h":31.9,"v":0.0115},{"h":62,"v":0.0115},{"h":64,"v":0.0115},{"h":70.5,"v":0.0115},{"h":71.6,"v":0.0115},{"h":72.7,"v":0.0115},{"h":82.4,"v":0.0115},{"h":85.7,"v":0.0115},{"h":87.9,"v":0.0115},{"h":89,"v":0.0115},{"h":97.6,"v":0.0115},{"h":98.7,"v":0.0115},{"h":99.8,"v":0.0115},{"h":101.4,"v":0.0115},{"h":103,"v":0.0115},{"h":107.4,"v":0.0115},{"h":130.2,"v":0.0115},{"h":131.8,"v":0.0115},{"h":133.5,"v":0.0115},{"h":136.7,"v":0.0115},{"h":141,"v":0.0115},{"h":142.2,"v":0.0115},{"h":146.5,"v":0.0115},{"h":150.3,"v":0.0115},{"h":156.3,"v":0.0115},{"h":157.9,"v":0.0115},{"h":159,"v":0.0115},{"h":161.7,"v":0.0115},
{"h":16.5,"v":0.024}
],
"he4s":[
{"a":4.1,"b":7,"v":1e-4},{"a":7.4,"b":11.2,"v":1e-4},{"a":12,"b":14.5,"v":1e-4},{"a":15.3,"b":18.5,"v":1e-4},{"a":19,"b":22,"v":1e-4},{"a":22.8,"b":26.5,"v":1e-4},{"a":27,"b":30.1,"v":1e-4},{"a":30.9,"b":32.6,"v":1e-4},{"a":33.4,"b":37,"v":1e-4},{"a":37.5,"b":41.8,"v":1e-4},{"a":42.6,"b":45,"v":1e-4},{"a":45.7,"b":47.3,"v":1e-4},{"a":48.1,"b":52,"v":1e-4},{"a":52.5,"b":56.8,"v":1e-4},{"a":60.6,"b":63.5,"v":1e-4},{"a":64.3,"b":67.8,"v":1e-4},{"a":68.6,"b":72,"v":1e-4},{"a":72.5,"b":77,"v":1e-4},{"a":77.5,"b":81.7,"v":1e-4},{"a":87.1,"b":90.5,"v":1e-4},{"a":91,"b":93.7,"v":1e-4},{"a":96.7,"b":100,"v":1e-4},{"a":100.5,"b":104,"v":1e-4},{"a":104.5,"b":108.1,"v":1e-4},{"a":108.9,"b":112,"v":1e-4},{"a":112.5,"b":116,"v":1e-4},{"a":116.6,"b":120,"v":1e-4},{"a":120.5,"b":125.1,"v":1e-4},{"a":129.3,"b":132.3,"v":1e-4},{"a":135.3,"b":139,"v":1e-4},{"a":139.5,"b":143,"v":1e-4},{"a":143.6,"b":149.2,"v":1e-4},{"a":154.6,"b":158.8,"v":1e-4},{"a":164.3,"b":168,"v":1e-4}
],
"cno4s":[
{"a":11.3,"b":11.9,"v":1e-4},{"a":14.6,"b":15.2,"v":1e-4},{"a":22.1,"b":22.7,"v":1e-4},{"a":30.2,"b":30.8,"v":1e-4},{"a":32.7,"b":33.3,"v":1e-4},{"a":41.9,"b":42.5,"v":1e-4},{"a":45.1,"b":45.6,"v":1e-4},{"a":47.4,"b":48,"v":1e-4},{"a":56.9,"b":60.5,"v":1e-4},{"a":63.6,"b":64.2,"v":1e-4},{"a":67.9,"b":68.5,"v":1e-4},{"a":81.8,"b":87,"v":1e-4},{"a":93.8,"b":96.6,"v":1e-4},{"a":108.2,"b":108.8,"v":1e-4},{"a":125.2,"b":129.2,"v":1e-4},{"a":132.4,"b":135.2,"v":1e-4},{"a":149.3,"b":154.5,"v":1e-4},{"a":158.9,"b":164.2,"v":1e-4}
],
"he4p":[
{"h":10.1,"v":1.9e-4},{"h":12.5,"v":1.9e-4},{"h":13.7,"v":1.9e-4},{"h":14.9,"v":1.9e-4},{"h":16.1,"v":1.9e-4},{"h":20.1,"v":1.9e-4},{"h":26.9,"v":1.9e-4},{"h":30.9,"v":1.9e-4},{"h":32.1,"v":3.1e-4},{"h":34.2,"v":3.1e-4},{"h":36.2,"v":1.9e-4},{"h":37,"v":1.9e-4},{"h":37.4,"v":1.9e-4},{"h":45,"v":3.1e-4},{"h":47.4,"v":1.9e-4},{"h":47.8,"v":1.9e-4},{"h":51.4,"v":1.9e-4},{"h":53.5,"v":1.9e-4},{"h":56.7,"v":1.9e-4},{"h":59.9,"v":1.9e-4},{"h":63.9,"v":1.9e-4},{"h":64.3,"v":1.9e-4},{"h":66.7,"v":1.9e-4},{"h":69.1,"v":1.9e-4},{"h":71.1,"v":1.9e-4},{"h":75.2,"v":1.9e-4},{"h":79.8,"v":1.9e-4},{"h":83.7,"v":1.9e-4},{"h":84.9,"v":1.9e-4},{"h":86.1,"v":3.1e-4},{"h":88.5,"v":1.9e-4},{"h":90.2,"v":1.9e-4},{"h":96,"v":1.9e-4},{"h":102.5,"v":1.9e-4},{"h":107,"v":1.9e-4},{"h":108.5,"v":1.9e-4},{"h":111.7,"v":1.9e-4},{"h":112.6,"v":1.9e-4},{"h":116,"v":1.9e-4},{"h":117.9,"v":1.9e-4},{"h":121.1,"v":1.9e-4},{"h":123,"v":1.9e-4},{"h":126.1,"v":1.9e-4},{"h":131.4,"v":1.9e-4},{"h":133.1,"v":1.9e-4},{"h":136.2,"v":1.9e-4},{"h":139.9,"v":1.9e-4},{"h":142.3,"v":1.9e-4},{"h":145.6,"v":1.9e-4},{"h":149.5,"v":1.9e-4},{"h":152.4,"v":1.9e-4},{"h":154.3,"v":1.9e-4},{"h":160.3,"v":1.9e-4},{"h":163.2,"v":1.9e-4},{"h":166.1,"v":1.9e-4}
],
"cno4p":[
{"h":3.9,"v":1.2e-5},{"h":8.7,"v":1.2e-5},{"h":29.3,"v":1.2e-5},{"h":37.5,"v":1.2e-5},{"h":51.3,"v":1.2e-5},{"h":53.5,"v":1.2e-5},{"h":57.1,"v":1.2e-5},{"h":59.9,"v":1.2e-5},{"h":62.7,"v":1.2e-5},{"h":67.7,"v":1.2e-5},{"h":82.6,"v":1.2e-5},{"h":110.1,"v":1.2e-5},{"h":125.8,"v":1.2e-5},{"h":130.4,"v":1.2e-5},{"h":136.2,"v":1.2e-5},{"h":144.7,"v":1.2e-5},{"h":150.4,"v":1.2e-5},{"h":153.5,"v":1.2e-5},{"h":164.1,"v":1.2e-5},{"h":166.4,"v":1.2e-5}
]
},
"spacing":36,
"bounds":"flush",
"resolve":{"scale":{"x":"independent","y":"independent","color":"independent"}},
"vconcat":[
{"width":696,"height":180,
"layer":[
{"data":{"name":"d"},"mark":{"type":"square","size":9,"opacity":1},
"encoding":{
"x":{"field":"h","type":"quantitative","scale":{"domain":[0,168],"nice":false,"zero":false},"axis":{"orient":"bottom","values":[24,72,120],"labels":false,"title":null,"tickSize":-9}},
"y":{"field":"eb","type":"quantitative","scale":{"type":"log","domain":[0.001,10000000],"nice":false},
"axis":{"orient":"left","values":[0.01,1,100,10000,1000000],"labelExpr":"['10⁻⁵','10⁻⁴','10⁻³','10⁻²','10⁻¹','10⁰','10¹','10²','10³','10⁴','10⁵','10⁶','10⁷'][round(log(datum.value)/LN10)+5]","labelFontSize":13,"labelPadding":21,"labelFlush":true,"labelOverlap":false,"tickSize":-15,"title":"1/(cm² s sr MeV)","titleFontSize":12,"titlePadding":4}},
"color":{"datum":"0.7 to 4.0 Mev Electrons","scale":{"domain":["0.035 to 0.065 MeV Electrons","0.7 to 4.0 Mev Electrons"],"range":["#000000","#0000ff"]},
"legend":{"orient":"none","legendX":-15,"legendY":-16,"direction":"horizontal","columns":2,"title":null,"symbolSize":0,"symbolStrokeWidth":0,"symbolOpacity":0,"labelOffset":0,"columnPadding":33.7,"labelFontSize":12,"labelFont":"DejaVu Sans Mono","labelLimit":500,"padding":0,"encode":{"labels":{"update":{"fill":{"signal":"datum.label == '0.7 to 4.0 Mev Electrons' ? '#0000ff' : '#000000'"}}}}}}}},
{"data":{"name":"d"},"mark":{"type":"square","size":9,"opacity":1},
"encoding":{
"x":{"field":"h","type":"quantitative","axis":{"orient":"bottom","values":[12,36,48,60,84,96,108,132,144,156],"labels":false,"title":null,"tickSize":-4.5}},
"y":{"field":"ec","type":"quantitative","scale":{"type":"log"},"axis":{"orient":"left","values":[0.1,10,1000,100000],"labels":false,"title":null,"tickSize":-7}},
"color":{"datum":"0.7 to 4.0 Mev Electrons"}}},
{"data":{"name":"d"},"mark":{"type":"square","size":9,"opacity":1},
"encoding":{"x":{"field":"h","type":"quantitative","axis":null},"y":{"field":"ed","type":"quantitative","scale":{"type":"log"},"axis":null},"color":{"datum":"0.7 to 4.0 Mev Electrons"}}},
{"data":{"name":"d"},"mark":{"type":"line","strokeWidth":3.5},
"encoding":{
"x":{"field":"h","type":"quantitative","axis":{"orient":"top","values":[24,72,120],"labels":false,"title":null,"tickSize":-9}},
"y":{"field":"ea","type":"quantitative","scale":{"type":"log"},"axis":{"orient":"right","values":[0.01,1,100,10000,1000000],"labels":false,"title":null,"tickSize":-15}},
"color":{"datum":"0.035 to 0.065 MeV Electrons"}}},
{"data":{"name":"d"},"mark":{"type":"square","size":12,"opacity":1},
"encoding":{
"x":{"field":"h","type":"quantitative","axis":{"orient":"top","values":[12,36,48,60,84,96,108,132,144,156],"labels":false,"title":null,"tickSize":-4.5}},
"y":{"field":"ea","type":"quantitative","scale":{"type":"log"},"axis":{"orient":"right","values":[0.1,10,1000,100000],"labels":false,"title":null,"tickSize":-7}},
"color":{"datum":"0.035 to 0.065 MeV Electrons"}}}
],
"resolve":{"axis":{"x":"independent","y":"independent"}}},

{"width":696,"height":180,
"layer":[
{"data":{"name":"sal"},"mark":{"type":"rule","strokeWidth":2},
"encoding":{
"x":{"field":"a","type":"quantitative","scale":{"domain":[0,168],"nice":false,"zero":false},"axis":{"orient":"bottom","values":[24,72,120],"labels":false,"title":null,"tickSize":-9}},
"x2":{"field":"b"},
"y":{"field":"v","type":"quantitative","scale":{"type":"log","domain":[0.00001,1000000],"nice":false},
"axis":{"orient":"left","values":[0.0001,0.01,1,100,10000,1000000],"labelExpr":"['10⁻⁵','10⁻⁴','10⁻³','10⁻²','10⁻¹','10⁰','10¹','10²','10³','10⁴','10⁵','10⁶','10⁷'][round(log(datum.value)/LN10)+5]","labelFontSize":13,"labelPadding":21,"labelFlush":true,"labelOverlap":false,"tickSize":-15,"title":"1/(cm² s sr MeV)","titleFontSize":12,"titlePadding":4}},
"color":{"datum":"2.2-12 MeV H","scale":{"domain":["0.14-0.62 MeV H","0.62-2.22 MeV H","2.2-12 MeV H","13-100 MeV H"],"range":["#000000","#0000ff","#cd7d5f","#ff0000"]},
"legend":{"orient":"none","legendX":-15,"legendY":-16,"direction":"horizontal","columns":4,"title":null,"symbolSize":0,"symbolStrokeWidth":0,"symbolOpacity":0,"labelOffset":0,"columnPadding":13,"labelFontSize":13,"labelFont":"DejaVu Sans Mono","labelLimit":500,"padding":0,"encode":{"labels":{"update":{"fill":{"signal":"datum.label == '0.62-2.22 MeV H' ? '#0000ff' : datum.label == '2.2-12 MeV H' ? '#cd7d5f' : datum.label == '13-100 MeV H' ? '#ff0000' : '#000000'"}}}}}}}},
{"data":{"name":"d"},"mark":{"type":"square","size":9,"opacity":1},
"encoding":{
"x":{"field":"h","type":"quantitative","axis":{"orient":"bottom","values":[12,36,48,60,84,96,108,132,144,156],"labels":false,"title":null,"tickSize":-4.5}},
"y":{"field":"pr","type":"quantitative","scale":{"type":"log"},"axis":{"orient":"left","values":[0.001,0.1,10,1000,100000],"labels":false,"title":null,"tickSize":-7}},
"color":{"datum":"13-100 MeV H"}}},
{"data":{"name":"d"},"mark":{"type":"square","size":9,"opacity":1},
"encoding":{"x":{"field":"h","type":"quantitative","axis":null},"y":{"field":"ps","type":"quantitative","scale":{"type":"log"},"axis":null},"color":{"datum":"13-100 MeV H"}}},
{"data":{"name":"d"},"mark":{"type":"square","size":9,"opacity":1},
"encoding":{"x":{"field":"h","type":"quantitative","axis":null},"y":{"field":"pt","type":"quantitative","scale":{"type":"log"},"axis":null},"color":{"datum":"13-100 MeV H"}}},
{"data":{"name":"d"},"mark":{"type":"line","strokeWidth":4},
"encoding":{
"x":{"field":"h","type":"quantitative","axis":{"orient":"top","values":[12,36,48,60,84,96,108,132,144,156],"labels":false,"title":null,"tickSize":-4.5}},
"y":{"field":"pb","type":"quantitative","scale":{"type":"log"},"axis":{"orient":"right","values":[0.001,0.1,10,1000,100000],"labels":false,"title":null,"tickSize":-7}},
"color":{"datum":"0.62-2.22 MeV H"}}},
{"data":{"name":"d"},"mark":{"type":"line","strokeWidth":3},
"encoding":{
"x":{"field":"h","type":"quantitative","axis":{"orient":"top","values":[24,72,120],"labels":false,"title":null,"tickSize":-9}},
"y":{"field":"pa","type":"quantitative","scale":{"type":"log"},"axis":{"orient":"right","values":[0.0001,0.01,1,100,10000,1000000],"labels":false,"title":null,"tickSize":-15}},
"color":{"datum":"0.14-0.62 MeV H"}}}
],
"resolve":{"axis":{"x":"independent","y":"independent"}}},

{"width":696,"height":180,
"layer":[
{"data":{"name":"he3s"},"mark":{"type":"rule","strokeWidth":2},
"encoding":{
"x":{"field":"a","type":"quantitative","axis":{"orient":"bottom","values":[12,36,48,60,84,96,108,132,144,156],"labels":false,"title":null,"tickSize":-4.5}},
"x2":{"field":"b"},
"y":{"field":"v","type":"quantitative","scale":{"type":"log"},"axis":null},"color":{"datum":"0.12-1.08 MeV/n He"}}},
{"data":{"name":"he3p"},"mark":{"type":"square","size":6,"opacity":1},
"encoding":{
"x":{"field":"h","type":"quantitative","scale":{"domain":[0,168],"nice":false,"zero":false},"axis":{"orient":"bottom","values":[24,72,120],"labels":false,"title":null,"tickSize":-9}},
"y":{"field":"v","type":"quantitative","scale":{"type":"log","domain":[0.001,10000],"nice":false},
"axis":{"orient":"left","values":[0.001,0.01,0.1,1,10,100,1000,10000],"labelExpr":"['10⁻⁵','10⁻⁴','10⁻³','10⁻²','10⁻¹','10⁰','10¹','10²','10³','10⁴','10⁵','10⁶','10⁷'][round(log(datum.value)/LN10)+5]","labelFontSize":13,"labelPadding":21,"labelFlush":true,"labelOverlap":false,"tickSize":-15,"title":"1/(cm² s sr MeV/nuc.)","titleFontSize":12,"titlePadding":4}},
"color":{"datum":"0.12-1.08 MeV/n He","scale":{"domain":["0.12-1.08 MeV/n He","0.12-1.08 MeV/n CNO","0.12-1.08 MeV Fe"],"range":["#000000","#0000ff","#ff0000"]},
"legend":{"orient":"none","legendX":-15,"legendY":-16,"direction":"horizontal","columns":3,"title":null,"symbolSize":0,"symbolStrokeWidth":0,"symbolOpacity":0,"labelOffset":0,"columnPadding":13.5,"labelFontSize":13,"labelFont":"DejaVu Sans Mono","labelLimit":500,"padding":0,"encode":{"labels":{"update":{"fill":{"signal":"datum.label == '0.12-1.08 MeV/n CNO' ? '#0000ff' : datum.label == '0.12-1.08 MeV Fe' ? '#ff0000' : '#000000'"}}}}}}}},
{"data":{"name":"cno3"},"mark":{"type":"square","size":7,"opacity":1},
"encoding":{
"x":{"field":"h","type":"quantitative","axis":{"orient":"top","values":[12,36,48,60,84,96,108,132,144,156],"labels":false,"title":null,"tickSize":-4.5}},
"y":{"field":"v","type":"quantitative","scale":{"type":"log"},"axis":null},"color":{"datum":"0.12-1.08 MeV/n CNO"}}},
{"data":{"name":"fe3"},"mark":{"type":"square","size":7,"opacity":1},
"encoding":{
"x":{"field":"h","type":"quantitative","axis":{"orient":"top","values":[24,72,120],"labels":false,"title":null,"tickSize":-9}},
"y":{"field":"v","type":"quantitative","scale":{"type":"log"},"axis":{"orient":"right","values":[0.001,0.01,0.1,1,10,100,1000,10000],"labels":false,"title":null,"tickSize":-15}},
"color":{"datum":"0.12-1.08 MeV Fe"}}}
],
"resolve":{"axis":{"x":"independent","y":"independent"}}},

{"width":696,"height":180,
"layer":[
{"data":{"name":"he4s"},"mark":{"type":"rule","strokeWidth":1.5},
"encoding":{
"x":{"field":"a","type":"quantitative","scale":{"domain":[0,168],"nice":false,"zero":false},
"axis":{"orient":"bottom","values":[24,72,120,168],"labels":true,"labelExpr":"datum.value == 24 ? '10-Feb' : datum.value == 72 ? '12-Feb' : datum.value == 120 ? '14-Feb' : '16-Feb'","labelFontSize":13,"labelPadding":16,"labelFlush":false,"labelOverlap":false,"title":null,"tickSize":-9}},
"x2":{"field":"b"},
"y":{"field":"v","type":"quantitative","scale":{"type":"log","domain":[0.00001,1000],"nice":false},
"axis":{"orient":"left","values":[0.0001,0.01,1,100],"labelExpr":"['10⁻⁵','10⁻⁴','10⁻³','10⁻²','10⁻¹','10⁰','10¹','10²','10³','10⁴','10⁵','10⁶','10⁷'][round(log(datum.value)/LN10)+5]","labelFontSize":13,"labelPadding":21,"labelFlush":true,"labelOverlap":false,"tickSize":-15,"title":"1/(cm² s sr MeV/nuc.)","titleFontSize":12,"titlePadding":4}},
"color":{"datum":"4 to 12 MeV/n He","scale":{"domain":["4 to 12 MeV/n He","4 to 12 MeV/n CNO","4 to 12 MeV Fe"],"range":["#000000","#0000ff","#ff0000"]},
"legend":{"orient":"none","legendX":-15,"legendY":-16,"direction":"horizontal","columns":3,"title":null,"symbolSize":0,"symbolStrokeWidth":0,"symbolOpacity":0,"labelOffset":0,"columnPadding":13,"labelFontSize":13,"labelFont":"DejaVu Sans Mono","labelLimit":500,"padding":0,"encode":{"labels":{"update":{"fill":{"signal":"datum.label == '4 to 12 MeV/n CNO' ? '#0000ff' : datum.label == '4 to 12 MeV Fe' ? '#ff0000' : '#000000'"}}}}}}}},
{"data":{"name":"cno4s"},"mark":{"type":"rule","strokeWidth":1.5},
"encoding":{
"x":{"field":"a","type":"quantitative","axis":{"orient":"bottom","values":[12,36,48,60,84,96,108,132,144,156],"labels":false,"title":null,"tickSize":-4.5}},
"x2":{"field":"b"},
"y":{"field":"v","type":"quantitative","scale":{"type":"log"},"axis":{"orient":"left","values":[0.001,0.1,10],"labels":false,"title":null,"tickSize":-7}},
"color":{"datum":"4 to 12 MeV/n CNO"}}},
{"data":{"name":"he4p"},"mark":{"type":"square","size":6,"opacity":1},
"encoding":{
"x":{"field":"h","type":"quantitative","axis":{"orient":"top","values":[12,36,48,60,84,96,108,132,144,156],"labels":false,"title":null,"tickSize":-4.5}},
"y":{"field":"v","type":"quantitative","scale":{"type":"log"},"axis":{"orient":"right","values":[0.001,0.1,10],"labels":false,"title":null,"tickSize":-7}},
"color":{"datum":"4 to 12 MeV/n He"}}},
{"data":{"name":"cno4p"},"mark":{"type":"square","size":6,"opacity":1},
"encoding":{
"x":{"field":"h","type":"quantitative","axis":{"orient":"top","values":[24,72,120],"labels":false,"title":null,"tickSize":-9}},
"y":{"field":"v","type":"quantitative","scale":{"type":"log"},"axis":{"orient":"right","values":[0.0001,0.01,1,100],"labels":false,"title":null,"tickSize":-15}},
"color":{"datum":"4 to 12 MeV/n CNO"}}}
],
"resolve":{"axis":{"x":"independent","y":"independent"}}}
]
}
